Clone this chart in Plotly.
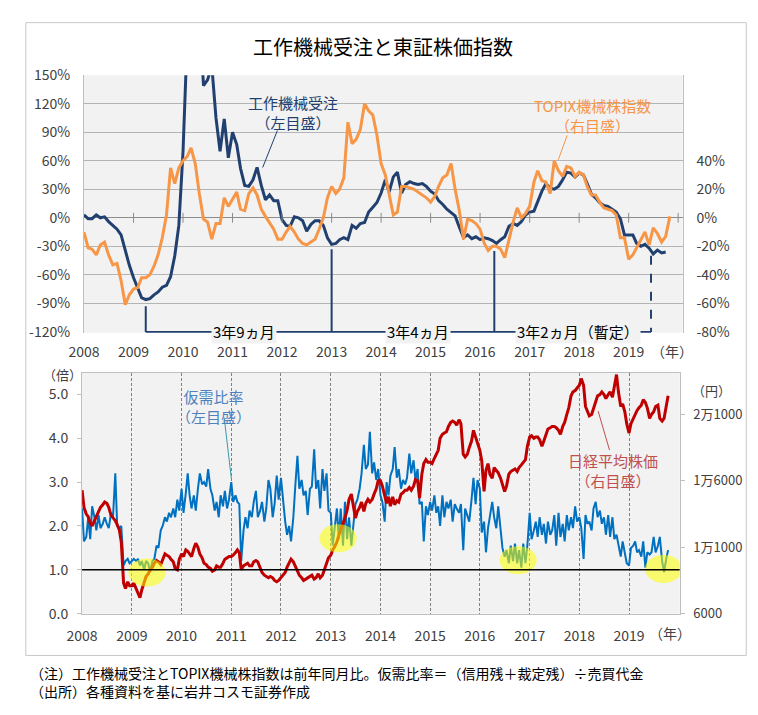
import pandas as pd
import plotly.graph_objects as go

# ---------------- DATA ----------------
YEARS = list(range(2008, 2020))
YEAR_LABELS = [str(y) for y in YEARS]

# 工作機械受注 (前年同月比, %, 左目盛) monthly from 2008-01
orders_2008 = [3, -1, -1, 3, 0, 1, -4, -8, -12, -18, -35, -50]
orders_2009 = [-63, -74, -84, -86, -85, -81, -78, -73, -71, -62, -40, -8]
orders_2010 = [70, 190, 265, 270, 215, 139, 145, 160, 105, 70, 104, 63]
orders_2011 = [90, 77, 52, 34, 33, 40, 53, 34, 19, 24, 18, 18]
orders_2012 = [-2, -8, -9, 1, 0, -3, -14, -7, -3, -3, -8, -21]
orders_2013 = [-28, -27, -23, -21, -23, -8, -11, -6, -5, 6, 11, 16]
orders_2014 = [26, 40, 27, 43, 48, 26, 35, 38, 36, 35, 36, 33]
orders_2015 = [28, 25, 18, 14, 9, 5, 2, -10, -21, -18, -22, -20]
orders_2016 = [-23, -21, -22, -24, -27, -23, -20, -9, -6, -8, -4, 3]
orders_2017 = [6, 7, 18, 28, 36, 31, 30, 33, 40, 48, 47, 43]
orders_2018 = [47, 45, 36, 25, 21, 16, 13, 12, 9, 6, -1, -18]
orders_2019 = [-18, -18, -27, -30, -28, -32, -38, -34, -37, -36]

# TOPIX機械株指数 (前年同月比, %, 右目盛) monthly from 2008-01
topix_2008 = [-10, -21, -22, -26, -19, -17, -26, -33, -32, -44, -61, -54]
topix_2009 = [-50, -49, -42, -42, -40, -34, -26, -14, 2, 35, 24, 35]
topix_2010 = [40, 43, 49, 38, 17, -1, -3, -15, -4, -4, 14, 8]
topix_2011 = [13, 18, 6, 5, 17, 21, 16, 6, 1, -3, -8, -15]
topix_2012 = [-15, -10, -6, -10, -15, -18, -19, -17, -15, -8, 0, 14]
topix_2013 = [22, 17, 20, 28, 67, 52, 55, 62, 80, 75, 72, 58]
topix_2014 = [38, 30, 16, 2, 4, 22, 22, 21, 20, 18, 16, 14]
topix_2015 = [11, 15, 22, 28, 30, 38, 20, 5, -15, -1, -2, -4]
topix_2016 = [-8, -18, -23, -20, -20, -22, -28, -15, -3, 7, 0, 3]
topix_2017 = [8, 25, 33, 26, 25, 17, 40, 33, 29, 36, 35, 29]
topix_2018 = [32, 30, 22, 16, 16, 11, 7, 6, 5, 2, -14, -14]
topix_2019 = [-29, -26, -21, -15, -10, -19, -7, -11, -17, -13, 1]

# 仮需比率 (倍, 左目盛) half-monthly (1st / 15th)
ratio_by_year = {
    2008: [2.4, 1.65, 1.75, 2.2, 1.7, 2.45, 2.2, 1.9, 2.25, 1.95, 2.05, 2.2, 2.05, 1.95, 2.3, 2.2, 3.2, 2.0, 1.95, 2.0, 1.1, 1.2, 1.25, 1.15],
    2009: [1.2, 1.25, 1.2, 1.25, 1.1, 1.2, 1.0, 1.2, 1.15, 0.95, 1.2, 1.25, 1.55, 1.5, 1.9, 2.0, 2.2, 2.1, 2.3, 2.2, 2.4, 2.2, 2.6, 2.35],
    2010: [2.85, 2.3, 2.75, 3.2, 2.7, 2.4, 2.7, 2.35, 2.85, 3.2, 2.95, 3.0, 2.9, 3.3, 2.85, 2.7, 2.35, 2.55, 2.2, 2.7, 2.45, 2.8, 2.4, 2.6],
    2011: [3.0, 2.55, 2.7, 2.55, 2.5, 1.2, 1.9, 2.2, 1.95, 2.35, 2.2, 2.55, 2.8, 2.2, 2.35, 2.55, 2.1, 2.4, 3.05, 2.85, 2.2, 2.5, 3.15, 2.6],
    2012: [3.1, 2.6, 2.1, 1.8, 2.0, 1.65, 2.2, 2.9, 3.6, 2.85, 3.05, 2.7, 2.8, 2.25, 2.85, 2.9, 3.75, 2.85, 3.05, 2.4, 3.3, 2.8, 3.2, 2.35],
    2013: [2.3, 1.55, 2.0, 2.4, 1.7, 2.4, 1.55, 2.55, 1.7, 2.2, 1.55, 2.0, 2.5, 2.6, 2.85, 3.2, 3.85, 3.3, 3.4, 4.15, 3.2, 3.45, 3.05, 3.3],
    2014: [2.7, 2.55, 2.1, 3.0, 2.7, 3.15, 3.3, 3.8, 3.1, 3.3, 2.85, 3.05, 2.95, 3.1, 3.65, 3.2, 3.5, 3.05, 3.3, 2.5, 2.55, 1.65, 2.45, 2.25],
    2015: [2.55, 2.35, 2.7, 2.3, 2.45, 2.0, 2.7, 2.2, 2.55, 2.4, 2.6, 2.1, 2.5, 2.4, 2.3, 2.5, 1.45, 2.4, 2.25, 2.1, 2.6, 3.1, 2.5, 3.05],
    2016: [2.85, 1.85, 2.1, 1.4, 1.95, 2.2, 2.55, 2.2, 1.95, 2.45, 1.95, 1.5, 1.3, 1.45, 1.15, 1.55, 1.2, 1.6, 1.15, 1.45, 1.05, 1.6, 1.15, 1.55],
    2017: [2.3, 1.7, 1.9, 2.1, 1.75, 2.2, 1.8, 2.05, 1.6, 2.1, 1.8, 1.9, 2.25, 1.55, 2.3, 1.75, 2.05, 1.65, 2.25, 1.9, 2.2, 1.95, 2.45, 2.1],
    2018: [2.2, 1.95, 1.25, 2.25, 2.05, 2.1, 1.9, 2.4, 2.55, 2.2, 2.35, 2.05, 2.2, 1.8, 2.25, 1.75, 2.2, 1.7, 1.8, 1.55, 1.3, 1.65, 1.35, 1.15],
    2019: [1.1, 1.5, 1.55, 1.65, 1.4, 1.45, 1.3, 1.65, 1.05, 1.4, 1.35, 1.4, 1.75, 1.4, 1.55, 1.75, 1.2, 0.95, 1.25, 1.45],
}

# 日経平均株価 (円, 右目盛) half-monthly (1st / 15th)
nikkei_by_year = {
    2008: [15300, 14000, 13500, 13300, 12800, 12600, 13000, 13300, 13700, 14000, 14200, 14400, 14300, 14000, 13400, 13200, 13000, 12700, 12300, 11400, 8300, 7900, 8400, 8100],
    2009: [8100, 8300, 7900, 7500, 7200, 7800, 8400, 8800, 9000, 9300, 9500, 9800, 10000, 9900, 9700, 10100, 10500, 10400, 10300, 10100, 9900, 9400, 9300, 10100],
    2010: [10500, 10300, 10800, 10700, 10500, 10300, 10900, 11300, 11000, 10500, 10200, 9800, 9700, 9500, 9400, 9200, 9300, 9600, 9500, 9500, 9800, 10100, 10200, 10300],
    2011: [10300, 10400, 10600, 10800, 10600, 9300, 9600, 9700, 9800, 9600, 9600, 9900, 10000, 9900, 9500, 9100, 8900, 8800, 8700, 8800, 8700, 8500, 8400, 8500],
    2012: [8700, 8900, 9100, 9500, 9800, 10100, 9900, 9600, 9300, 8900, 8700, 8500, 8600, 8700, 8800, 8900, 8600, 8700, 9000, 8700, 8900, 9300, 9700, 10200],
    2013: [10400, 10800, 11100, 11400, 11900, 12300, 12700, 13200, 13800, 14600, 15000, 14200, 13200, 13700, 14000, 14400, 13700, 14300, 14600, 14400, 14600, 15000, 15400, 16000],
    2014: [16000, 15600, 14900, 14300, 14800, 14100, 14800, 14200, 14500, 14400, 15000, 15100, 15300, 15300, 15500, 15300, 15600, 16100, 16000, 14700, 16500, 17300, 17600, 17400],
    2015: [17400, 17300, 17700, 18000, 18300, 19200, 19500, 19600, 19700, 20100, 20400, 20500, 20400, 20200, 20600, 20300, 18000, 17800, 18000, 18500, 19000, 19800, 19300, 18900],
    2016: [18300, 17500, 15200, 16800, 17300, 16500, 16200, 17000, 16800, 16600, 16200, 15700, 15200, 15600, 16500, 16700, 16800, 16900, 16700, 17000, 17200, 17400, 17600, 18600],
    2017: [19300, 19400, 19200, 19300, 19300, 19100, 18600, 19000, 19500, 19900, 20000, 20100, 20100, 20000, 19800, 19500, 20100, 20400, 21000, 21500, 22400, 22700, 22800, 23000],
    2018: [23200, 23700, 23200, 21600, 21200, 20900, 21000, 21500, 22100, 22400, 22500, 22700, 22500, 22200, 22500, 22700, 22300, 23200, 24000, 22700, 21600, 21800, 21200, 20300],
    2019: [19600, 20300, 20700, 21100, 21300, 21500, 21700, 22100, 21900, 21500, 20700, 21000, 21200, 21600, 21700, 20700, 20500, 20700, 21700, 22400],
}

# 景気循環の谷 (bracket) annotations
CYCLE_POINTS = ["2009-04-01", "2013-01-01", "2016-04-15", "2019-06-15"]
CYCLE_TOPS = [-93, -33, -35, -40]
CYCLE_LABELS = ["3年9ヵ月", "3年4ヵ月", "3年2ヵ月（暫定）"]

# highlighted regions (仮需比率 near 1.0)
HIGHLIGHT_CENTERS = [("2009-04-22", 0.94), ("2013-02-24", 1.72), ("2016-10-08", 1.22), ("2019-09-12", 1.02)]

TOP_LEFT_TICKS = [-120, -90, -60, -30, 0, 30, 60, 90, 120, 150]
TOP_RIGHT_TICKS = [-80, -60, -40, -20, 0, 20, 40]
BOT_LEFT_TICKS = [0, 1, 2, 3, 4, 5]
BOT_RIGHT_TICKS = [6000, 11000, 16000, 21000]
BOT_RIGHT_LABELS = ["6000", "1万1000", "1万6000", "2万1000"]

# ---------------- BUILD SERIES ----------------
orders = (orders_2008 + orders_2009 + orders_2010 + orders_2011 + orders_2012 + orders_2013 +
          orders_2014 + orders_2015 + orders_2016 + orders_2017 + orders_2018 + orders_2019)
topix = (topix_2008 + topix_2009 + topix_2010 + topix_2011 + topix_2012 + topix_2013 +
         topix_2014 + topix_2015 + topix_2016 + topix_2017 + topix_2018 + topix_2019)
orders_x = pd.date_range("2008-01-01", periods=len(orders), freq="MS")
topix_x = pd.date_range("2008-01-01", periods=len(topix), freq="MS")

def half_month_series(d):
    xs, ys = [], []
    for yr in sorted(d):
        vals = d[yr]
        xs += list(pd.date_range(f"{yr}-01-01", periods=len(vals), freq="SMS"))
        ys += vals
    return xs, ys

ratio_x, ratio = half_month_series(ratio_by_year)
nikkei_x, nikkei = half_month_series(nikkei_by_year)

# ---------------- STYLE ----------------
W, H = 758, 715
FONT = "Noto Sans CJK JP"
NAVY = "#21406f"
ORANGE = "#F79646"
BLUE = "#0070C0"
RED = "#C00000"
TXT = "#404040"

def px(x):
    return x / W

def py(y):
    return 1 - y / H

fig = go.Figure()

# top chart
fig.add_trace(go.Scatter(x=orders_x, y=orders, xaxis="x", yaxis="y", mode="lines",
                         line=dict(color=NAVY, width=3), hoverinfo="skip"))
fig.add_trace(go.Scatter(x=topix_x, y=topix, xaxis="x", yaxis="y2", mode="lines",
                         line=dict(color=ORANGE, width=3), hoverinfo="skip"))
# small ticks on the 0% line
tick_dates = [f"{y}-01-01" for y in YEARS[1:] + [2020]]
fig.add_trace(go.Scatter(x=tick_dates, y=[0] * len(tick_dates), xaxis="x", yaxis="y", mode="markers",
                         marker=dict(symbol="line-ns", size=7, line=dict(width=1, color="#8c8c8c")),
                         hoverinfo="skip"))
# cycle brackets
for i, (d, top) in enumerate(zip(CYCLE_POINTS, CYCLE_TOPS)):
    fig.add_trace(go.Scatter(x=[d, d], y=[top, TOP_LEFT_TICKS[0]], xaxis="x", yaxis="y", mode="lines",
                             line=dict(color=NAVY, width=2, dash="dash" if i == len(CYCLE_POINTS) - 1 else "solid"),
                             hoverinfo="skip"))
fig.add_trace(go.Scatter(x=[CYCLE_POINTS[0], CYCLE_POINTS[-1]], y=[TOP_LEFT_TICKS[0]] * 2, xaxis="x", yaxis="y",
                         mode="lines", line=dict(color=NAVY, width=2), hoverinfo="skip"))

# bottom chart
fig.add_trace(go.Scatter(x=ratio_x, y=ratio, xaxis="x2", yaxis="y3", mode="lines",
                         line=dict(color=BLUE, width=2), hoverinfo="skip"))
fig.add_trace(go.Scatter(x=nikkei_x, y=nikkei, xaxis="x2", yaxis="y4", mode="lines",
                         line=dict(color=RED, width=3), hoverinfo="skip"))

tickfont = dict(family=FONT, size=14, color=TXT)

fig.update_layout(
    width=W, height=H, margin=dict(l=0, r=0, t=0, b=0),
    paper_bgcolor="white", plot_bgcolor="#f2f2f2", showlegend=False,
    font=dict(family=FONT, color=TXT),
    xaxis=dict(domain=[px(69.4), px(681)], anchor="y", type="date",
               range=["2008-01-01", "2020-02-03"],
               tickvals=[f"{y}-01-01" for y in YEARS], ticktext=YEAR_LABELS,
               showgrid=False, zeroline=False, showline=False, ticks="",
               tickfont=tickfont, ticklabelstandoff=9),
    yaxis=dict(domain=[py(331), py(66)], range=[-120.9, 150],
               tickvals=TOP_LEFT_TICKS, ticktext=[f"{v}%" for v in TOP_LEFT_TICKS],
               showgrid=True, gridcolor="#b4b4b4", gridwidth=1,
               zeroline=True, zerolinecolor="#8c8c8c", zerolinewidth=1,
               showline=True, linecolor="#bfbfbf", ticks="", tickfont=tickfont,
               ticklabelstandoff=10),
    yaxis2=dict(overlaying="y", side="right", anchor="x", range=[-80.6, 100],
                tickvals=TOP_RIGHT_TICKS, ticktext=[f"{v}%" for v in TOP_RIGHT_TICKS],
                showgrid=False, zeroline=False, showline=True, linecolor="#bfbfbf",
                ticks="", tickfont=tickfont, ticklabelstandoff=10),
    xaxis2=dict(domain=[px(67.5), px(678)], anchor="y3", type="date",
                range=["2008-01-01", "2020-01-08"],
                tickvals=[f"{y}-01-01" for y in YEARS], ticktext=YEAR_LABELS,
                showgrid=True, gridcolor="#7f7f7f", gridwidth=1, griddash="3px,2px",
                zeroline=False, showline=True, linecolor="#bfbfbf", mirror=True, ticks="",
                tickfont=tickfont, ticklabelstandoff=10),
    yaxis3=dict(domain=[py(620), py(372)], anchor="x2", range=[0, 5.5],
                tickvals=BOT_LEFT_TICKS, ticktext=[f"{v:.1f}" for v in BOT_LEFT_TICKS],
                showgrid=False, zeroline=False, showline=True, linecolor="#bfbfbf",
                ticks="outside", ticklen=4, tickcolor="#bfbfbf", tickfont=tickfont,
                ticklabelstandoff=6),
    yaxis4=dict(overlaying="y3", side="right", anchor="x2", range=[6000, 24150],
                tickvals=BOT_RIGHT_TICKS, ticktext=BOT_RIGHT_LABELS,
                showgrid=False, zeroline=False, showline=True, linecolor="#bfbfbf",
                ticks="outside", ticklen=4, tickcolor="#bfbfbf",
                tickfont=dict(family=FONT, size=13, color=TXT), ticklabelstandoff=6),
)

shapes = []
# outer frame
shapes.append(dict(type="rect", xref="paper", yref="paper", x0=px(10), x1=px(746), y0=py(663), y1=py(12),
                   line=dict(color="#c8c8c8", width=1), fillcolor="rgba(0,0,0,0)", layer="below"))
# pointer lines
for (x0, y0, x1, y1, c) in [(252, 161, 267, 123, NAVY), (554, 153, 563, 128, ORANGE),
                            (220, 481, 212.7, 418.3, "#3a9aa8"), (606.3, 451.7, 594.7, 411.7, "#c0504d")]:
    shapes.append(dict(type="line", xref="paper", yref="paper", x0=px(x0), y0=py(y0), x1=px(x1), y1=py(y1),
                       line=dict(color=c, width=1)))
# yellow highlights
half_w = pd.Timedelta(days=137)
for c, v in HIGHLIGHT_CENTERS:
    cd = pd.Timestamp(c)
    shapes.append(dict(type="circle", xref="x2", yref="y3", x0=cd - half_w, x1=cd + half_w,
                       y0=v - 0.32, y1=v + 0.32, fillcolor="rgba(255,255,0,0.55)",
                       line=dict(width=0), layer="above"))
# 1.0 line
shapes.append(dict(type="line", xref="x2 domain", yref="y3", x0=0, x1=1, y0=1.0, y1=1.0,
                   line=dict(color="black", width=1.5), layer="above"))

annotations = []

def text(x, y, s, size=14, color=TXT, xanchor="center", **kw):
    annotations.append(dict(x=px(x), y=py(y), xref="paper", yref="paper", text=s, showarrow=False,
                            xanchor=xanchor, yanchor="middle",
                            font=dict(family=FONT, size=size, color=color), **kw))

text(375, 37, "工作機械受注と東証株価指数", size=20, color="#000000")
text(670, 350, "（年）", size=14)
text(668, 640, "（年）", size=14)
text(48, 374, "（倍）", size=13)
text(711, 390, "（円）", size=13)
text(283, 104, "工作機械受注<br>（左目盛）", size=15, color=NAVY)
text(589, 108, "TOPIX機械株指数<br>（右目盛）", size=15, color=ORANGE)
text(202, 407, "仮需比率<br>（左目盛）", size=15, color="#4F81BD")
text(610, 473, "日経平均株価<br>（右目盛）", size=15, color="#C0504D")
text(12, 690.5,
     "（注）工作機械受注とTOPIX機械株指数は前年同月比。仮需比率＝（信用残＋裁定残）÷売買代金<br>"
     "（出所）各種資料を基に岩井コスモ証券作成",
     size=14, color="#000000", xanchor="left", align="left")

# cycle labels in data coordinates
for lab, a, b in zip(CYCLE_LABELS, CYCLE_POINTS[:-1], CYCLE_POINTS[1:]):
    mid = pd.Timestamp(a) + (pd.Timestamp(b) - pd.Timestamp(a)) / 2
    annotations.append(dict(x=mid, y=TOP_LEFT_TICKS[0], xref="x", yref="y", text=lab, showarrow=False,
                            xshift=5, yanchor="middle", bgcolor="#f2f2f2", borderpad=1,
                            font=dict(family=FONT, size=15, color="#000000")))

fig.update_layout(shapes=shapes, annotations=annotations)
fig.write_html("out.html", config={"displayModeBar": False},
               post_script="document.body.style.margin='0';document.body.style.overflow='hidden';")
